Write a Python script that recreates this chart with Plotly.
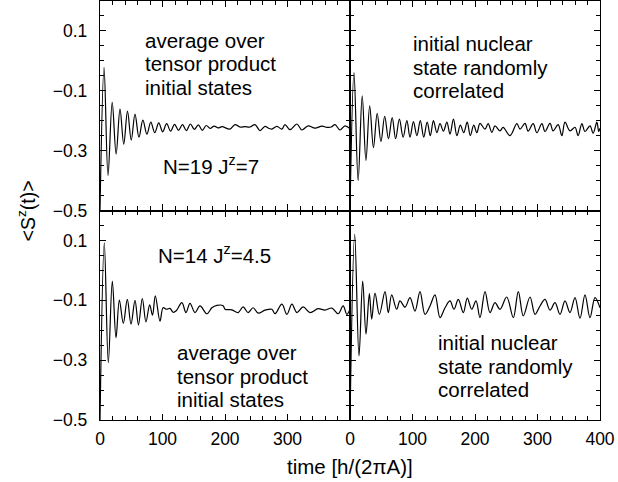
import plotly.graph_objects as go

# ---- data (extrema of each curve) ----
tl_t = [0, 6.5, 12.8, 19.5, 25.8, 32, 38, 44, 50, 56, 62.3, 68.6, 75, 81.3, 87.6, 94, 100.3, 106.6, 113,
        119.3, 125.6, 132, 138.3, 144.6, 151, 157.3, 163.6, 170, 176.3, 182.6, 189, 195.3, 208, 216, 224,
        232, 240, 248, 256, 264, 270, 275, 283, 291, 296, 304, 315, 323, 333, 344, 355, 363, 370, 376,
        384, 392, 400]
tl_v = [-0.50, -0.022, -0.383, -0.139, -0.311, -0.161, -0.278, -0.168, -0.265, -0.178, -0.255, -0.198,
        -0.245, -0.205, -0.240, -0.207, -0.237, -0.210, -0.235, -0.212, -0.232, -0.213, -0.233, -0.211,
        -0.229, -0.214, -0.232, -0.216, -0.226, -0.218, -0.224, -0.220, -0.228, -0.213, -0.221, -0.220,
        -0.221, -0.213, -0.233, -0.219, -0.225, -0.228, -0.219, -0.228, -0.213, -0.230, -0.211, -0.231,
        -0.217, -0.225, -0.218, -0.222, -0.221, -0.213, -0.231, -0.217, -0.226]

tr_t = [0, 6.4, 13, 19.5, 25.5, 31.5, 37.5, 43.5, 49.5, 55.5, 61.5, 67.5, 73, 79, 85, 91, 96, 101.5, 107,
        112.5, 118, 123.5, 128.5, 133.5, 139, 144, 149.5, 155, 160, 165.5, 171, 176.5, 182, 187.5, 192.5,
        198, 203, 208, 216, 221, 227, 232, 240, 245, 256, 267, 272, 280, 285, 293, 299, 307, 312, 320, 325,
        333, 339, 344, 352, 360, 365, 371, 376, 384, 389, 395, 398, 400]
tr_v = [-0.50, -0.039, -0.400, -0.117, -0.333, -0.150, -0.290, -0.175, -0.270, -0.185, -0.260, -0.190,
        -0.260, -0.195, -0.255, -0.200, -0.255, -0.203, -0.250, -0.200, -0.255, -0.205, -0.250, -0.200,
        -0.240, -0.210, -0.235, -0.205, -0.245, -0.195, -0.250, -0.215, -0.240, -0.205, -0.250, -0.215,
        -0.240, -0.209, -0.228, -0.210, -0.239, -0.217, -0.234, -0.222, -0.250, -0.210, -0.228, -0.209,
        -0.235, -0.210, -0.240, -0.210, -0.236, -0.209, -0.234, -0.213, -0.250, -0.205, -0.234, -0.222,
        -0.250, -0.210, -0.236, -0.217, -0.242, -0.205, -0.236, -0.225]

bl_t = [0, 6.9, 13.3, 19.7, 25.6, 31, 37.3, 43.7, 49.6, 56, 61.5, 67.7, 73.5, 79.5, 84, 88.5, 96, 101,
        106.7, 112, 117, 122, 131, 137.5, 144, 152, 160, 171, 179, 187, 197, 200, 211, 221, 229, 237, 245,
        253, 264, 275, 280, 291, 299, 307, 315, 325, 336, 349, 360, 371, 381, 389, 395, 400]
bl_v = [-0.50, 0.092, -0.308, -0.036, -0.225, -0.099, -0.177, -0.097, -0.180, -0.100, -0.182, -0.094,
        -0.172, -0.115, -0.150, -0.085, -0.170, -0.125, -0.130, -0.127, -0.140, -0.135, -0.108, -0.141,
        -0.110, -0.141, -0.119, -0.145, -0.125, -0.117, -0.118, -0.130, -0.132, -0.141, -0.122, -0.141,
        -0.125, -0.143, -0.133, -0.130, -0.145, -0.113, -0.147, -0.113, -0.141, -0.122, -0.141, -0.128,
        -0.133, -0.126, -0.145, -0.119, -0.147, -0.130]

br_t = [0, 7.5, 14.4, 20.3, 25.6, 31, 34.7, 40, 47, 56, 61.3, 66.7, 74.7, 80, 88, 96, 104, 112, 120, 128,
        136, 144, 152, 160, 166.4, 173.3, 181.3, 187.7, 194.7, 201.6, 208, 216, 224, 232, 240, 250.7,
        261.3, 269.3, 277.3, 288, 296, 304, 312, 320, 328, 336, 344, 352, 360, 368, 376, 384, 392, 400]
br_v = [-0.50, 0.120, -0.286, -0.036, -0.213, -0.078, -0.163, -0.076, -0.147, -0.071, -0.141, -0.082,
        -0.130, -0.102, -0.123, -0.091, -0.136, -0.071, -0.147, -0.119, -0.082, -0.158, -0.125, -0.102,
        -0.130, -0.097, -0.141, -0.093, -0.130, -0.102, -0.158, -0.071, -0.141, -0.108, -0.130, -0.089,
        -0.158, -0.071, -0.152, -0.089, -0.147, -0.119, -0.097, -0.133, -0.108, -0.147, -0.102, -0.141,
        -0.091, -0.160, -0.082, -0.158, -0.091, -0.125]

x_ticks_left = [0, 100, 200, 300]
x_ticks_right = [0, 100, 200, 300, 400]
y_ticks = [0.1, -0.1, -0.3, -0.5]
y_text = ["0.1", "\u22120.1", "\u22120.3", "\u22120.5"]

label_tensor = ["average over", "tensor product", "initial states"]
label_random = ["initial nuclear", "state randomly", "correlated"]

FONT = "Liberation Sans, Arial, Helvetica, sans-serif"

fig = go.Figure()
series = [(tl_t, tl_v, "x", "y"), (tr_t, tr_v, "x2", "y2"),
          (bl_t, bl_v, "x3", "y3"), (br_t, br_v, "x4", "y4")]
for t, v, xa, ya in series:
    fig.add_trace(go.Scatter(x=t, y=v, xaxis=xa, yaxis=ya, mode="lines",
                             line=dict(color="black", width=1.2, shape="spline", smoothing=1.0),
                             showlegend=False, hoverinfo="skip"))

def xax(domain, anchor, ticks, show):
    return dict(domain=domain, anchor=anchor, range=[0, 400], showline=True, linecolor="black",
                linewidth=1.3, mirror="ticks", ticks="inside", ticklen=6, tickwidth=1.2,
                tickcolor="black", tickvals=ticks, ticktext=[str(v) for v in ticks],
                showticklabels=show, showgrid=False, zeroline=False, ticklabelstandoff=3,
                tickfont=dict(family=FONT, size=17.5, color="black"),
                minor=dict(dtick=20, tick0=0, ticks="inside", ticklen=4, tickwidth=1, tickcolor="black"))

def yax(domain, anchor, show):
    return dict(domain=domain, anchor=anchor, range=[-0.5, 0.2], showline=True, linecolor="black",
                linewidth=1.3, mirror="ticks", ticks="inside", ticklen=6, tickwidth=1.2,
                tickcolor="black", tickvals=y_ticks, ticktext=y_text, showticklabels=show,
                showgrid=False, zeroline=False, ticklabelstandoff=8,
                tickfont=dict(family=FONT, size=17.5, color="black"),
                minor=dict(dtick=0.05, tick0=0, ticks="inside", ticklen=4, tickwidth=1, tickcolor="black"))

fig.update_layout(
    width=618, height=482,
    margin=dict(l=100, r=18, t=1, b=62),
    paper_bgcolor="white", plot_bgcolor="white",
    xaxis=xax([0, 0.5], "y", x_ticks_left, False),
    yaxis=yax([0.5, 1], "x", True),
    xaxis2=xax([0.5, 1], "y2", x_ticks_right, False),
    yaxis2=yax([0.5, 1], "x2", False),
    xaxis3=xax([0, 0.5], "y3", x_ticks_left, True),
    yaxis3=yax([0, 0.5], "x3", True),
    xaxis4=xax([0.5, 1], "y4", x_ticks_right, True),
    yaxis4=yax([0, 0.5], "x4", False),
)

def px2paper(px, py):
    return (px - 100) / 500.0, 1 - (py - 1) / 418.0

def note(text, px, py, size=20.5, xanchor="left", angle=0):
    xp, yp = px2paper(px, py)
    fig.add_annotation(text=text, x=xp, y=yp, xref="paper", yref="paper", xanchor=xanchor,
                       yanchor="middle", showarrow=False, align="left", textangle=angle,
                       font=dict(family=FONT, size=size, color="black"))

def block(lines, px, py0, step=23.4):
    for i, line in enumerate(lines):
        note(line, px, py0 + i * step)

block(label_tensor, 143, 40)
note("N=19 J<sup>z</sup>=7", 161, 165)
block(label_random, 411, 43.5)
note("N=14 J<sup>z</sup>=4.5", 156, 253)
block(label_tensor, 175, 352)
block(label_random, 436, 342)
note("time [h/(2\u03c0A)]", 350, 465, size=20.5, xanchor="center")
note("&lt;S<sup>z</sup>(t)&gt;", 26, 211, size=19.5, xanchor="center", angle=-90)

fig.write_html("out.html", post_script="document.body.style.margin='0px';",
               config={"displayModeBar": False})
